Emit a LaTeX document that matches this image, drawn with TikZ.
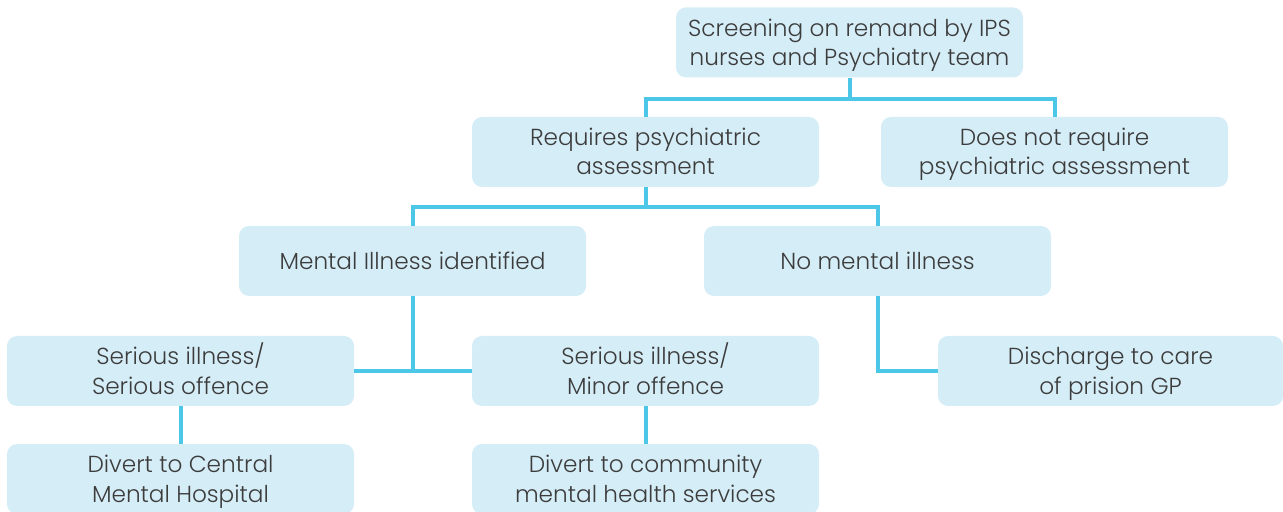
\documentclass[tikz,border=0pt]{standalone}
\usepackage{fontspec}
\setmainfont{Poppins Light}
\usepackage{xcolor}
\usetikzlibrary{positioning, calc}
\definecolor{boxblue}{RGB}{213, 237, 247}
\definecolor{linkblue}{RGB}{77, 199, 232}
\definecolor{textgrey}{RGB}{60, 60, 60}

\begin{document}
\begin{tikzpicture}[
                x=0.5pt, y=-0.5pt,
                % Style cho các hộp
                stepbox/.style={
                    rectangle, rounded corners=5pt,
                    fill=boxblue, draw=none,
                    text=textgrey, font=\fontsize{11.6}{14.5}\selectfont,
                    align=center,
                    minimum width=173.5pt, minimum height=35pt, inner sep=0pt,
                    text height=11.5pt, text depth=2.5pt
                },
                % Hộp hai dòng
                twoline/.style={
                    text height=23pt, text depth=0pt
                },
                % Style cho đường nối
                link/.style={
                    line width=2pt, color=linkblue, line join=miter
                }
            ]
                \useasboundingbox (0,0) rectangle (1283,512);

                % 1. Vẽ các hộp (tọa độ thủ công)
                \node[stepbox, twoline] (screen) at (849.5,42.5) {Screening on remand by IPS\\nurses and Psychiatry team};

                \node[stepbox, twoline] (req) at (645.5,152) {Requires psychiatric\\assessment};
                \node[stepbox, twoline] (noreq) at (1054.5,152) {Does not require\\psychiatric assessment};

                \node[stepbox] (mental) at (412.5,261) {Mental Illness identified};
                \node[stepbox] (nomental) at (877.5,261) {No mental illness};

                \node[stepbox, twoline] (serser) at (180.5,371) {Serious illness/\\Serious offence};
                \node[stepbox, twoline] (sermin) at (645.5,371) {Serious illness/\\Minor offence};
                \node[stepbox, twoline, minimum width=172.5pt] (discharge) at (1110.5,371) {Discharge to care\\of prision GP};

                \node[stepbox, twoline] (divcentral) at (180.5,479) {Divert to Central\\Mental Hospital};
                \node[stepbox, twoline] (divcommunity) at (645.5,479) {Divert to community\\mental health services};

                % 2. Vẽ các đường nối
                \draw[link] (screen.south) -- ++(0,21) -| (req.north);
                \draw[link] (screen.south) -- ++(0,21) -| (noreq.north);

                \draw[link] (req.south) -- ++(0,20) -| (mental.north);
                \draw[link] (req.south) -- ++(0,20) -| (nomental.north);

                \draw[link] (mental.south) |- (serser.east);
                \draw[link] (mental.south) |- (sermin.west);
                \draw[link] (nomental.south) |- (discharge.west);

                \draw[link] (serser) -- (divcentral);
                \draw[link] (sermin) -- (divcommunity);

            \end{tikzpicture}
\end{document}
